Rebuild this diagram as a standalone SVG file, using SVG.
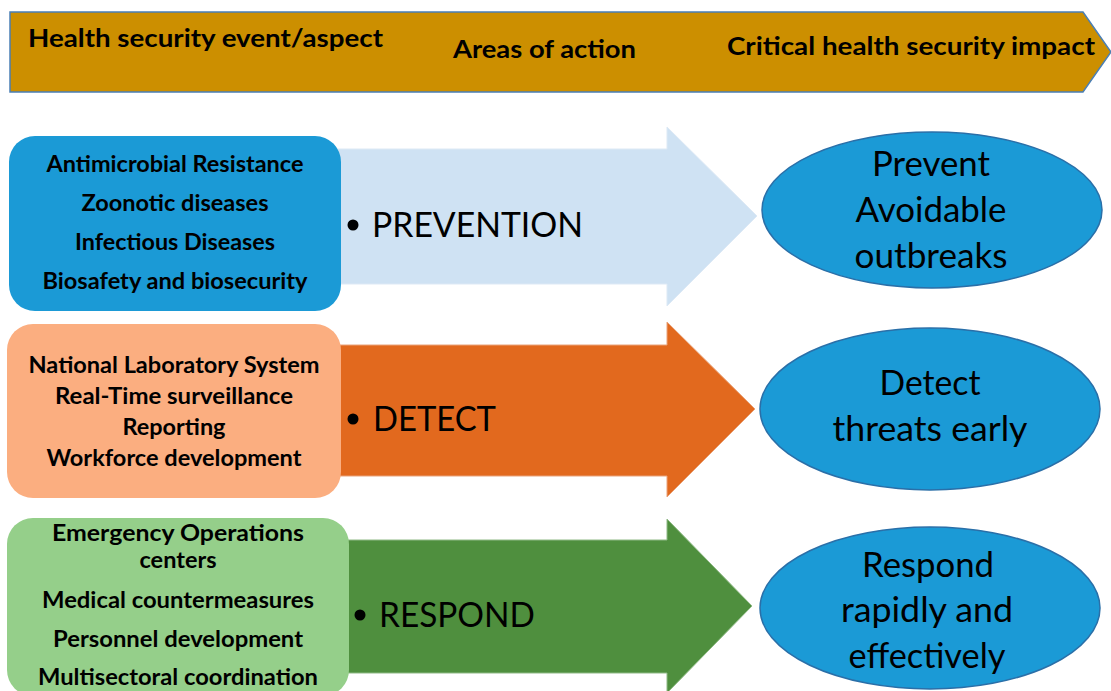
<svg xmlns="http://www.w3.org/2000/svg" width="1111" height="691" viewBox="0 0 1111 691">
<style>
.hdr{font-family:Lato,"Open Sans","Liberation Sans",sans-serif;font-weight:bold;font-size:25px;fill:#000}
.box{font-family:Lato,"Open Sans","Liberation Sans",sans-serif;font-weight:bold;font-size:23px;fill:#000;text-anchor:middle}
.arr{font-family:Lato,"Open Sans","Liberation Sans",sans-serif;font-size:35px;fill:#000}
.ell{font-family:Lato,"Open Sans","Liberation Sans",sans-serif;font-size:34px;fill:#000;text-anchor:middle}
.ellipse{fill:#1b9ad6;stroke:#2a6fa8;stroke-width:1.5}
</style>
<rect width="1111" height="691" fill="#fff"/>
<g id="header">
<polygon points="10,12 1083,12 1111,52 1083,92 10,92" fill="#cc8f00" stroke="#4a7fb5" stroke-width="1.5"/>
<text class="hdr" x="28" y="47" textLength="355" lengthAdjust="spacingAndGlyphs">Health security event/aspect</text>
<text class="hdr" x="453" y="58" textLength="183" lengthAdjust="spacingAndGlyphs">Areas of action</text>
<text class="hdr" x="727" y="55" textLength="368" lengthAdjust="spacingAndGlyphs">Critical health security impact</text>
</g>
<g id="connectors">
<g id="arrow-prevention">
<polygon points="320,149 667,149 667,127 757,216 667,306 667,284 320,284" fill="#cfe2f3" stroke="#dde9f5" stroke-width="1"/>
<circle cx="353" cy="225" r="5.5" fill="#000"/>
<text class="arr" x="372" y="237" textLength="211" lengthAdjust="spacingAndGlyphs">PREVENTION</text>
</g>
<g id="arrow-detect">
<polygon points="320,345 667,345 667,322 755,409 667,497 667,476 320,476" fill="#e2691e" stroke="#e9a37a" stroke-width="1"/>
<circle cx="353" cy="419" r="5.5" fill="#000"/>
<text class="arr" x="373" y="431" textLength="123" lengthAdjust="spacingAndGlyphs">DETECT</text>
</g>
<g id="arrow-respond">
<polygon points="330,540 667,540 667,519 752,606 667,693 667,673 330,673" fill="#4f8f3e" stroke="#8fb985" stroke-width="1"/>
<circle cx="360" cy="615" r="5.5" fill="#000"/>
<text class="arr" x="379" y="627" textLength="156" lengthAdjust="spacingAndGlyphs">RESPOND</text>
</g>
</g>
<g id="box-prevention">
<rect x="9" y="136" width="332" height="175" rx="26" fill="#1b9ad6"/>
<text class="box" x="175" y="172" textLength="257" lengthAdjust="spacingAndGlyphs">Antimicrobial Resistance</text>
<text class="box" x="175" y="211" textLength="187" lengthAdjust="spacingAndGlyphs">Zoonotic diseases</text>
<text class="box" x="175" y="250" textLength="200" lengthAdjust="spacingAndGlyphs">Infectious Diseases</text>
<text class="box" x="175" y="289" textLength="265" lengthAdjust="spacingAndGlyphs">Biosafety and biosecurity</text>
</g>
<g id="box-detect">
<rect x="7" y="324" width="334" height="174" rx="26" fill="#fbae80"/>
<text class="box" x="174" y="373" textLength="291" lengthAdjust="spacingAndGlyphs">National Laboratory System</text>
<text class="box" x="174" y="404" textLength="238" lengthAdjust="spacingAndGlyphs">Real-Time surveillance</text>
<text class="box" x="174" y="435" textLength="103" lengthAdjust="spacingAndGlyphs">Reporting</text>
<text class="box" x="174" y="466" textLength="255" lengthAdjust="spacingAndGlyphs">Workforce development</text>
</g>
<g id="box-respond">
<rect x="7" y="518" width="342" height="178" rx="26" fill="#95cf8a"/>
<text class="box" x="178" y="541" textLength="252" lengthAdjust="spacingAndGlyphs">Emergency Operations</text>
<text class="box" x="178" y="568" textLength="77" lengthAdjust="spacingAndGlyphs">centers</text>
<text class="box" x="178" y="608" textLength="272" lengthAdjust="spacingAndGlyphs">Medical countermeasures</text>
<text class="box" x="178" y="647" textLength="250" lengthAdjust="spacingAndGlyphs">Personnel development</text>
<text class="box" x="178" y="685" textLength="280" lengthAdjust="spacingAndGlyphs">Multisectoral coordination</text>
</g>
<g id="impact-prevent">
<ellipse class="ellipse" cx="932" cy="210" rx="170" ry="78"/>
<text class="ell" x="931" y="176" textLength="118" lengthAdjust="spacingAndGlyphs">Prevent</text>
<text class="ell" x="931" y="222" textLength="151" lengthAdjust="spacingAndGlyphs">Avoidable</text>
<text class="ell" x="931" y="268" textLength="153" lengthAdjust="spacingAndGlyphs">outbreaks</text>
</g>
<g id="impact-detect">
<ellipse class="ellipse" cx="930" cy="409" rx="170" ry="81"/>
<text class="ell" x="930" y="395" textLength="101" lengthAdjust="spacingAndGlyphs">Detect</text>
<text class="ell" x="930" y="441" textLength="195" lengthAdjust="spacingAndGlyphs">threats early</text>
</g>
<g id="impact-respond">
<ellipse class="ellipse" cx="930" cy="608" rx="170" ry="81"/>
<text class="ell" x="928" y="577" textLength="132" lengthAdjust="spacingAndGlyphs">Respond</text>
<text class="ell" x="927" y="622" textLength="172" lengthAdjust="spacingAndGlyphs">rapidly and</text>
<text class="ell" x="927" y="668" textLength="157" lengthAdjust="spacingAndGlyphs">effectively</text>
</g>
</svg>
